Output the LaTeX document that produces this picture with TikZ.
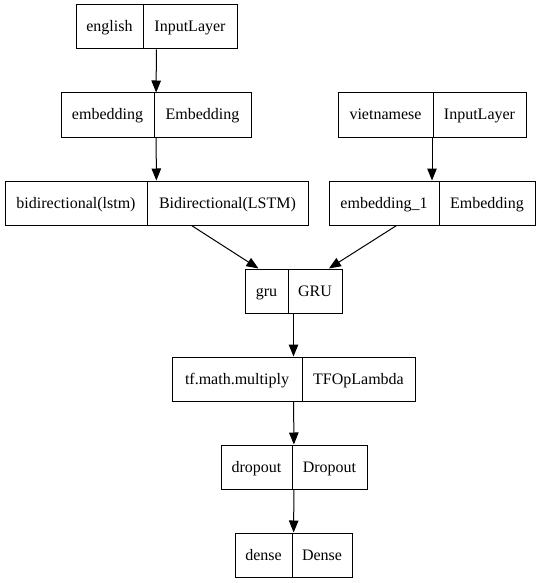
\documentclass[tikz,border=0pt]{standalone}
\usepackage{fontspec}
\setmainfont{Liberation Serif}
\usetikzlibrary{arrows.meta}
\newcommand\recbox[7]{%
  \node[rec, minimum width={(#4-#2)*1pt}] (#1) at ({(#2+#4)/2},{#5+22}) {};
  \draw[divline] (#3,#5) -- (#3,#5+44);
  \node[lbl] (#1a) at ({(#2+#3)/2},{#5+27}) {#6};
  \node[lbl] (#1b) at ({(#3+#4)/2},{#5+27}) {#7};
}
\begin{document}
\begin{tikzpicture}[x=1pt,y=-1pt,
  rec/.style={draw=black, line width=1pt, inner sep=0pt, minimum height=44pt},
  divline/.style={draw=black, line width=1pt},
  lbl/.style={inner sep=0pt, anchor=base, font=\fontsize{16}{19}\selectfont},
  link/.style={draw=black, line width=1pt, -{Triangle[length=12pt,width=9.5pt]}}]
\useasboundingbox (0,0) rectangle (540,583);
\recbox{eng}{76}{143}{237}{5}{english}{InputLayer}
\recbox{emb}{61}{154}{251}{93}{embedding}{Embedding}
\recbox{vie}{338}{433}{526}{93}{vietnamese}{InputLayer}
\recbox{bid}{5}{147}{308}{181}{bidirectional(lstm)}{Bidirectional(LSTM)}
\recbox{embb}{329}{439}{535}{181}{embedding\_1}{Embedding}
\recbox{gru}{245}{288}{342}{269}{gru}{GRU}
\recbox{mul}{172}{302}{415}{357}{tf.math.multiply}{TFOpLambda}
\recbox{drop}{221}{292}{367}{445}{dropout}{Dropout}
\recbox{dense}{235}{292}{352}{533}{dense}{Dense}
\draw[link] (eng) -- (emb);
\draw[link] (emb) -- (bid);
\draw[link] (vie) -- (embb);
\draw[link] (bid) -- (gru);
\draw[link] (embb) -- (gru);
\draw[link] (gru) -- (mul);
\draw[link] (mul) -- (drop);
\draw[link] (drop) -- (dense);
\end{tikzpicture}
\end{document}
